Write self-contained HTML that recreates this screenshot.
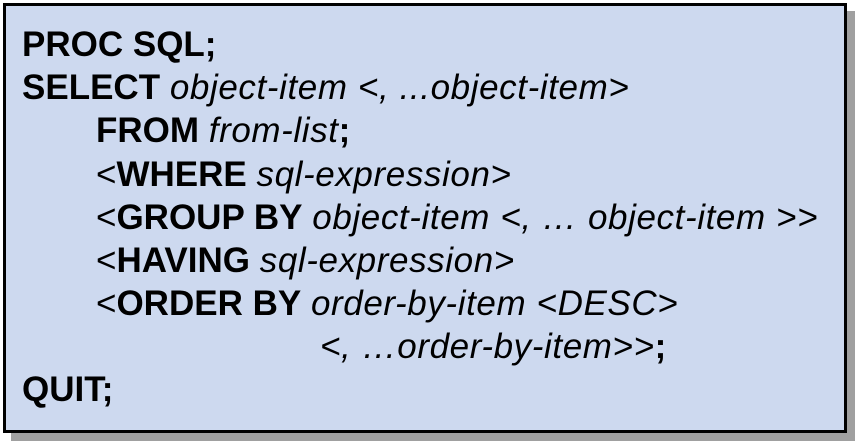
<!DOCTYPE html>
<html><head><style>
body{margin:0;width:864px;height:446px;background:#fff;position:relative;overflow:hidden;font-family:"Liberation Sans",Arial,sans-serif;}
.shadow{position:absolute;left:11px;top:11px;width:844px;height:430px;background:#a0a0a0;}
.box{position:absolute;left:3px;top:3px;width:838px;height:424px;background:#cdd9ef;border:3px solid #000;}
.l{position:absolute;font-size:35px;line-height:40px;white-space:nowrap;color:#000;}
b{font-weight:bold}
i{font-style:italic;letter-spacing:0.6px}
</style></head><body>
<div class="shadow"></div>
<div class="box"></div>
<div class="l" style="left:22px;top:25px"><b>PROC SQL;</b></div>
<div class="l" style="left:22px;top:68px"><b>SELECT</b> <i>object-item &lt;, ...object-item&gt;</i></div>
<div class="l" style="left:96px;top:111px"><b>FROM</b> <i>from-list</i><b>;</b></div>
<div class="l" style="left:96px;top:155px">&lt;<b>WHERE</b> <i>sql-expression&gt;</i></div>
<div class="l" style="left:96px;top:198px">&lt;<b>GROUP BY</b> <i>object-item &lt;, … object-item &gt;&gt;</i></div>
<div class="l" style="left:96px;top:241px">&lt;<b>HAVING</b> <i>sql-expression&gt;</i></div>
<div class="l" style="left:96px;top:284px">&lt;<b>ORDER BY</b> <i>order-by-item &lt;DESC&gt;</i></div>
<div class="l" style="left:320px;top:327px"><i>&lt;, …order-by-item&gt;&gt;</i><b>;</b></div>
<div class="l" style="left:22px;top:370px"><b>QUIT;</b></div>
</body></html>
